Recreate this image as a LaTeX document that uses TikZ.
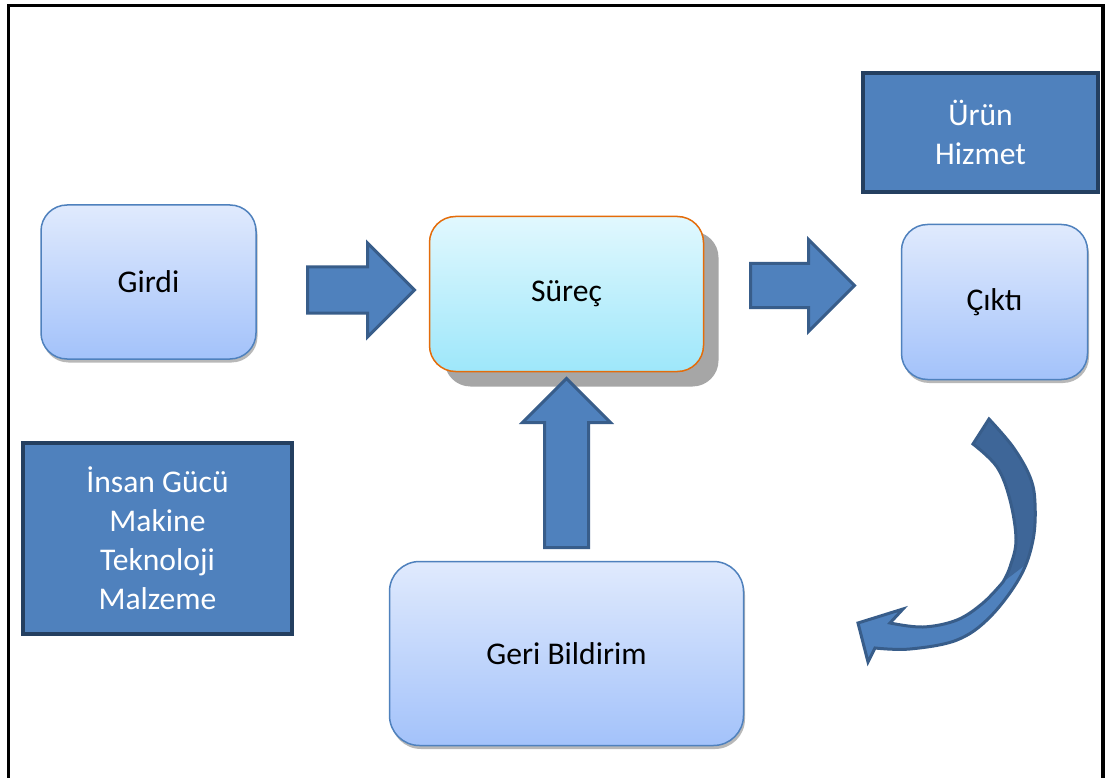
\documentclass[tikz,border=0pt]{standalone}
\usepackage{fontspec}
\setmainfont{Carlito}
\usetikzlibrary{shapes.arrows,shadows}
\definecolor{boxtop}{RGB}{224,234,253}
\definecolor{boxbot}{RGB}{163,194,250}
\definecolor{boxline}{RGB}{79,129,189}
\definecolor{surectop}{RGB}{225,248,254}
\definecolor{surecbot}{RGB}{158,231,250}
\definecolor{orangeline}{RGB}{228,108,10}
\definecolor{shadowgrey}{RGB}{166,166,166}
\definecolor{darkfill}{RGB}{79,129,189}
\definecolor{darkline}{RGB}{36,63,96}
\definecolor{arrowfill}{RGB}{79,129,189}
\definecolor{arrowline}{RGB}{56,93,138}
\definecolor{arrowback}{RGB}{62,102,152}
\begin{document}
\begin{tikzpicture}[x=1pt,y=-1pt,
  lbl/.style={font=\fontsize{31.6}{39}\selectfont, align=center},
  lightbox/.style={lbl, draw=boxline, line width=1.5pt, top color=boxtop, bottom color=boxbot,
    rounded corners=26pt, inner sep=0pt,
    drop shadow={shadow xshift=1.5pt, shadow yshift=-3.5pt, opacity=0.5, fill=black!55}},
  surecbox/.style={lbl, draw=orangeline, line width=1.5pt, top color=surectop, bottom color=surecbot,
    rounded corners=26pt, inner sep=0pt,
    drop shadow={shadow xshift=15pt, shadow yshift=-15pt, opacity=1, fill=shadowgrey}},
  darkbox/.style={lbl, draw=darkline, fill=darkfill, line width=4.5pt, text=white, inner sep=0pt},
  blockarrow/.style={single arrow, draw=arrowline, fill=arrowfill, line width=3pt,
    inner sep=0pt, text depth=0pt, anchor=tail}
]
\useasboundingbox (0,0) rectangle (1109,778);
\fill[white] (0,0) rectangle (1109,778);
% frame
\draw[line width=3.5pt] (8.5,790) -- (8.5,5.5) -- (1103,5.5) -- (1103,790);

% nodes
\node[lightbox, minimum width=215pt, minimum height=154pt] (girdi) at (148.5,282) {Girdi};
\node[surecbox, minimum width=274pt, minimum height=155pt] (surec) at (566.5,294) {Süreç};
\node[lightbox, minimum width=186pt, minimum height=155pt] (cikti) at (994.5,302) {Çıktı};
\node[lightbox, minimum width=354pt, minimum height=184pt, rounded corners=30pt] (geri) at (566.5,653.5) {Geri Bildirim};
\node[darkbox, minimum width=235pt, minimum height=119pt] (urun) at (980.5,132.5) {Ürün\\Hizmet};
\node[darkbox, minimum width=269pt, minimum height=191pt] (insan) at (157.5,538.5) {İnsan Gücü\\Makine\\Teknoloji\\Malzeme};

% block arrows
\node[blockarrow, text height=43pt, minimum height=107pt, single arrow head extend=24pt] (a1) at (306,290) {};
\node[blockarrow, text height=41pt, minimum height=104pt, single arrow head extend=24pt] (a2) at (749,285.5) {};
\node[blockarrow, text height=41pt, minimum height=169pt, single arrow head extend=22pt, rotate=90] (a3) at (566.5,549) {};

% curved arrow (Çıktı -> Geri Bildirim)
\fill[arrowfill]
  plot[smooth, tension=0.6] coordinates {(989,419) (1013,447) (1030,477) (1035,503) (1033,540) (1020,577) (990,617) (957,640) (910,649) (875,648)}
  -- (868,662) -- (858,623) -- (903,609) -- (890,623)
  -- plot[smooth, tension=0.6] coordinates {(890,623) (923,627) (957,620) (983,603) (1003,582)}
  -- plot[smooth, tension=0.6] coordinates {(1003,582) (1010,567) (1016,540) (1010,500) (997,467) (973,444)}
  -- cycle;
\fill[arrowback]
  plot[smooth, tension=0.6] coordinates {(989,419) (1013,447) (1030,477) (1035,503) (1033,540) (1024,566)}
  -- (1003,582)
  -- plot[smooth, tension=0.6] coordinates {(1003,582) (1010,567) (1016,540) (1010,500) (997,467) (973,444)}
  -- cycle;
\draw[arrowline, line width=3pt, line join=miter]
  plot[smooth, tension=0.6] coordinates {(989,419) (1013,447) (1030,477) (1035,503) (1033,540) (1020,577) (990,617) (957,640) (910,649) (875,648)}
  -- (868,662) -- (858,623) -- (903,609) -- (890,623)
  -- plot[smooth, tension=0.6] coordinates {(890,623) (923,627) (957,620) (983,603) (1003,582)}
  -- plot[smooth, tension=0.6] coordinates {(1003,582) (1010,567) (1016,540) (1010,500) (997,467) (973,444)}
  -- cycle;
\end{tikzpicture}
\end{document}
